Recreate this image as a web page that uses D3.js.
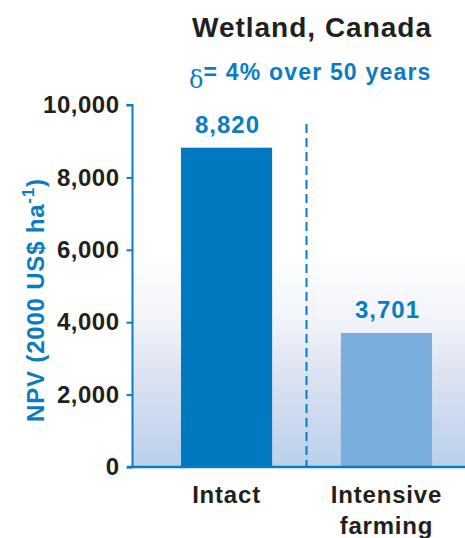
<!DOCTYPE html>
<html>
<head>
<meta charset="utf-8">
<script src="https://cdn.jsdelivr.net/npm/d3@7"></script>
<style>
  html, body { margin: 0; padding: 0; background: #fff; }
  svg { display: block; font-family: "Liberation Sans", Arial, sans-serif; font-weight: bold; }
</style>
</head>
<body>
<svg id="chart" width="465" height="538"></svg>
<script>
// Net present value of the wetland under two land uses
const categories = ["Intact", "Intensive farming"];
const categoryLines = [["Intact"], ["Intensive", "farming"]];
const npvValues = [8820, 3701];
const valueLabels = ["8,820", "3,701"];
const tickValues = [0, 2000, 4000, 6000, 8000, 10000];

const blue = "#0a7cc2";
const barColors = ["#0079c1", "#7aaedd"];
const dark = "#231f20";

const svg = d3.select("#chart");
const W = 465, H = 538;
const plotLeft = 133, plotRight = 480, plotTop = 105, plotBottom = 467;

const y = d3.scaleLinear().domain([0, 10000]).range([plotBottom, plotTop]);
const x = d3.scaleBand().domain(categories).range([plotLeft, plotRight])
  .paddingInner(0.43).paddingOuter(0.3);

// soft background wash behind the bars
const defs = svg.append("defs");
const grad = defs.append("linearGradient").attr("id", "wash")
  .attr("x1", 0).attr("y1", 0).attr("x2", 0).attr("y2", 1);
grad.append("stop").attr("offset", "0%").attr("stop-color", "#ffffff");
grad.append("stop").attr("offset", "30%").attr("stop-color", "#f3f5fb");
grad.append("stop").attr("offset", "60%").attr("stop-color", "#dbe1f1");
grad.append("stop").attr("offset", "100%").attr("stop-color", "#b9d0ec");
svg.append("rect")
  .attr("x", plotLeft).attr("y", 250)
  .attr("width", W - plotLeft).attr("height", plotBottom - 250)
  .attr("fill", "url(#wash)");

// bars
svg.append("g").selectAll("rect").data(npvValues).join("rect")
  .attr("x", (d, i) => x(categories[i]))
  .attr("width", x.bandwidth())
  .attr("y", d => y(d))
  .attr("height", d => y(0) - y(d))
  .attr("fill", (d, i) => barColors[i]);

// value labels
svg.append("g").selectAll("text").data(npvValues).join("text")
  .attr("x", (d, i) => x(categories[i]) + x.bandwidth() / 2 + 1)
  .attr("y", d => y(d) - 15)
  .attr("text-anchor", "middle")
  .attr("fill", blue)
  .attr("font-size", 24)
  .attr("letter-spacing", 1)
  .text((d, i) => valueLabels[i]);

// dashed divider between the two scenarios
const midX = (x(categories[0]) + x.bandwidth() + x(categories[1])) / 2;
svg.append("line")
  .attr("x1", midX).attr("x2", midX)
  .attr("y1", 124).attr("y2", plotBottom)
  .attr("stroke", blue).attr("stroke-width", 2)
  .attr("stroke-dasharray", "9,5");

// y axis
const yAxis = svg.append("g")
  .attr("transform", `translate(${plotLeft - 0.5},0)`)
  .call(d3.axisLeft(y).tickValues(tickValues).tickSize(6).tickPadding(7)
    .tickFormat(d3.format(",")));
yAxis.select(".domain").attr("stroke", blue).attr("stroke-width", 2)
  .attr("d", `M-6,${plotTop}H0V${plotBottom}`);
yAxis.selectAll(".tick line").attr("stroke", blue).attr("stroke-width", 2);
yAxis.selectAll(".tick text")
  .attr("fill", dark).attr("font-size", 24)
  .attr("letter-spacing", 0.5)
  .attr("font-family", "'Liberation Sans', Arial, sans-serif")
  .attr("font-weight", "bold");

// baseline
svg.append("line")
  .attr("x1", plotLeft - 6).attr("x2", W)
  .attr("y1", plotBottom).attr("y2", plotBottom)
  .attr("stroke", blue).attr("stroke-width", 2.5);

// category labels
svg.append("g").selectAll("text").data(categoryLines).join("text")
  .attr("x", (d, i) => x(categories[i]) + x.bandwidth() / 2)
  .attr("y", 503)
  .attr("text-anchor", "middle")
  .attr("fill", dark)
  .attr("font-size", 24)
  .attr("letter-spacing", 0.8)
  .each(function (lines) {
    d3.select(this).selectAll("tspan").data(lines).join("tspan")
      .attr("x", d3.select(this).attr("x"))
      .attr("dy", (l, j) => j === 0 ? 0 : 31)
      .text(l => l);
  });

// y axis title
const yTitle = svg.append("text")
  .attr("transform", "translate(44,300) rotate(-90)")
  .attr("text-anchor", "middle")
  .attr("fill", blue)
  .attr("font-size", 24)
  .attr("letter-spacing", 0.8);
yTitle.append("tspan").text("NPV (2000 US$ ha");
yTitle.append("tspan").attr("dy", -10).attr("font-size", 17).text("-1");
yTitle.append("tspan").attr("dy", 10).text(")");

// title and discount-rate note
svg.append("text")
  .attr("x", 312).attr("y", 37)
  .attr("text-anchor", "middle")
  .attr("fill", dark).attr("font-size", 28)
  .attr("letter-spacing", 1)
  .text("Wetland, Canada");

const note = svg.append("text")
  .attr("x", 189).attr("y", 80)
  .attr("fill", blue).attr("font-size", 23);
note.append("tspan").attr("font-weight", "normal")
  .attr("font-family", "'DejaVu Serif', serif")
  .attr("dy", 8).attr("font-size", 24).text("δ");
note.append("tspan").attr("dy", -8).attr("letter-spacing", 1.2).text("= 4% over 50 years");
</script>
</body>
</html>
